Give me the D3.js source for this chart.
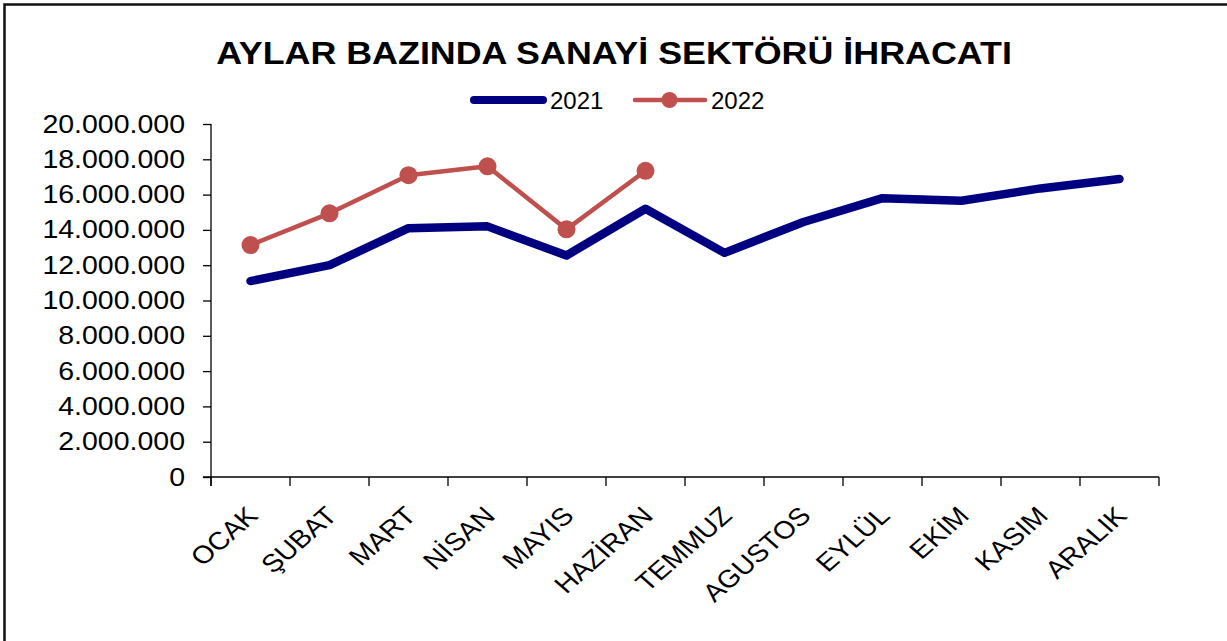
<!DOCTYPE html>
<html>
<head>
<meta charset="utf-8">
<script src="https://cdn.jsdelivr.net/npm/d3@7"></script>
<style>
  html, body { margin: 0; padding: 0; background: #fff; }
  svg { display: block; }
  text { font-family: "Liberation Sans", Arial, sans-serif; fill: #000; }
</style>
</head>
<body>
<svg id="chart" width="1227" height="641"></svg>
<script>
const months = ["OCAK", "ŞUBAT", "MART", "NİSAN", "MAYIS", "HAZİRAN", "TEMMUZ", "AGUSTOS", "EYLÜL", "EKİM", "KASIM", "ARALIK"];
const values2021 = [11100000, 12000000, 14100000, 14200000, 12550000, 15200000, 12700000, 14450000, 15800000, 15650000, 16350000, 16880000];
const values2022 = [13140000, 14940000, 17100000, 17600000, 14030000, 17350000];
const yTicks = [0, 2000000, 4000000, 6000000, 8000000, 10000000, 12000000, 14000000, 16000000, 18000000, 20000000];
const seriesNames = ["2021", "2022"];
const titleText = "AYLAR BAZINDA SANAYİ SEKTÖRÜ İHRACATI";

(function () {
const svg = d3.select("#chart");
const pl = 211, pr = 1159, pt = 124, pb = 477;
const blue = "#000080", red = "#C0504D";
const sx = 1.14; // horizontal stretch of the reference text

// frame (only top and left edges visible)
svg.append("rect").attr("x", 4.5).attr("y", 4.5).attr("width", 1300).attr("height", 700)
  .attr("fill", "none").attr("stroke", "#111").attr("stroke-width", 2.5);

const x = d3.scaleBand().domain(months).range([pl, pr]).padding(0);
const y = d3.scaleLinear().domain([0, 20000000]).range([pb, pt]);
const cx = m => x(m) + x.bandwidth() / 2;

const loc = d3.formatLocale({ decimal: ",", thousands: ".", grouping: [3], currency: ["", ""] });
const fmt = loc.format(",");

// Y axis
const yAxis = svg.append("g").attr("transform", `translate(${pl},0)`)
  .call(d3.axisLeft(y).tickValues(yTicks).tickFormat(fmt).tickSize(8).tickPadding(18));
yAxis.select(".domain").attr("stroke", "#000").attr("stroke-width", 1.3).attr("d", `M0,${pt}V${pb + 9}`);
yAxis.selectAll(".tick line").attr("stroke", "#000").attr("stroke-width", 1.3);
yAxis.selectAll(".tick text").attr("font-size", 25).attr("fill", "#000")
  .attr("font-family", "'Liberation Sans', Arial, sans-serif")
  .attr("x", 0).attr("transform", `translate(-26,0) scale(${sx},1)`);

// X axis line and boundary ticks
const xg = svg.append("g");
xg.append("line").attr("x1", pl - 8).attr("x2", pr).attr("y1", pb).attr("y2", pb)
  .attr("stroke", "#000").attr("stroke-width", 1.3);
const bounds = months.map(m => x(m)).concat([x(months[months.length - 1]) + x.bandwidth()]);
xg.selectAll("line.tk").data(bounds).enter().append("line").attr("class", "tk")
  .attr("x1", d => d).attr("x2", d => d).attr("y1", pb).attr("y2", pb + 9)
  .attr("stroke", "#000").attr("stroke-width", 1.3);
xg.selectAll("text.lbl").data(months).enter().append("text").attr("class", "lbl")
  .attr("transform", d => `translate(${cx(d) + 2},${pb + 34}) scale(${sx},1) rotate(-45)`)
  .attr("text-anchor", "end").attr("dy", "0.35em").attr("font-size", 25).text(d => d);

// Lines
const line = d3.line().x((d, i) => cx(months[i])).y(d => y(d));
svg.append("path").datum(values2021).attr("d", line).attr("fill", "none")
  .attr("stroke", blue).attr("stroke-width", 8.5).attr("stroke-linecap", "round").attr("stroke-linejoin", "round");
svg.append("path").datum(values2022).attr("d", line).attr("fill", "none")
  .attr("stroke", red).attr("stroke-width", 4.5).attr("stroke-linejoin", "round");
svg.selectAll("circle.m").data(values2022).enter().append("circle").attr("class", "m")
  .attr("cx", (d, i) => cx(months[i])).attr("cy", d => y(d)).attr("r", 9).attr("fill", red);

// Title
svg.append("text").attr("transform", `translate(614,64) scale(1.12,1)`).attr("text-anchor", "middle")
  .attr("font-size", 32).attr("font-weight", "bold").text(titleText);

// Legend
const lg = svg.append("g");
lg.append("line").attr("x1", 474).attr("x2", 543).attr("y1", 100).attr("y2", 100)
  .attr("stroke", blue).attr("stroke-width", 8).attr("stroke-linecap", "round");
lg.append("text").attr("x", 550).attr("y", 108.5).attr("font-size", 24).text(seriesNames[0]);
lg.append("line").attr("x1", 635).attr("x2", 705).attr("y1", 100).attr("y2", 100)
  .attr("stroke", red).attr("stroke-width", 4.5).attr("stroke-linecap", "round");
lg.append("circle").attr("cx", 669.5).attr("cy", 100).attr("r", 8).attr("fill", red);
lg.append("text").attr("x", 711).attr("y", 108.5).attr("font-size", 24).text(seriesNames[1]);
})();
</script>
</body>
</html>
